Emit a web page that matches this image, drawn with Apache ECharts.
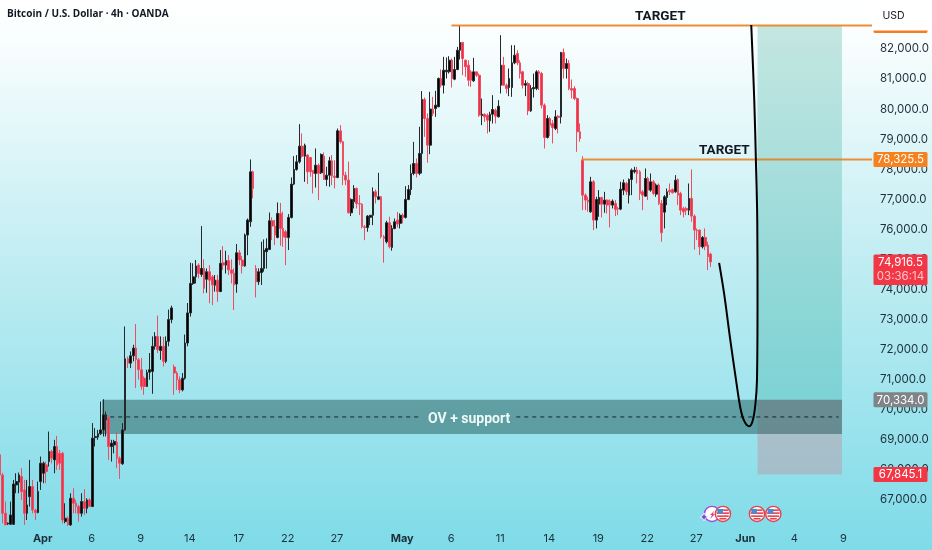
<!DOCTYPE html>
<html><head><meta charset="utf-8">
<style>html,body{margin:0;padding:0;background:#fff}#c{width:932px;height:550px}</style>
<script src="https://cdn.jsdelivr.net/npm/echarts@6/dist/echarts.min.js"></script>
</head><body><div id="c"></div>
<script>
const chartTitle = 'Bitcoin / U.S. Dollar · 4h · OANDA';
const currency = 'USD';
const slotCount = 320;
const tickIndex = [15,33,51,69,87,105,123,147,165,183,201,219,237,255,273,291,309];
const tickText = ['Apr','6','9','14','17','22','27','May','6','11','14','19','22','27','Jun','4','9'];
// open, close, low, high
const ohlc = [
[68500,67830,67670,68890],[67830,66556,66223,67900],[66560,66170,66170,66945],[66200,66230,66170,66250],
[66190,66500,66170,66945],[66190,67530,66170,67665],[67500,67610,67222,67888],[67590,67832,67222,67910],
[67777,67277,67000,68055],[67333,66556,66170,67666],[66556,66833,66334,67666],[67110,67444,66778,68332],
[67444,66667,66556,67666],[66660,66580,66334,66700],[66580,67277,66556,67610],[67610,68221,67333,68443],
[67888,68221,67555,68276],[68166,67944,67555,68276],[68276,68610,68110,69275],[68610,68388,68221,68665],
[68332,68776,67888,69000],[68776,68166,68000,69131],[68550,68221,68000,68665],[68550,66334,66223,68600],
[66280,66390,66223,66890],[66390,66170,66140,66450],[66170,67055,66140,67222],[67055,66890,66556,67388],
[66890,66780,66556,67000],[66780,66556,66280,66840],[66556,66945,66445,67222],[66945,66720,66500,67360],
[66720,67000,66556,67055],[67000,66780,66770,67055],[66780,69055,66770,69555],[69075,69110,68776,69390],
[69090,69200,69000,69330],[69200,69330,69160,70275],[69330,69830,69110,70350],[69665,69830,69110,69940],
[69720,68776,68332,69800],[68776,68890,68276,69000],[68830,68945,68550,69000],[68920,68390,68055,69255],
[68390,68220,67700,68450],[68200,69330,68170,69555],[69330,71695,69300,72770],[71695,71550,71385,71770],
[71550,71795,71385,71940],[71795,72050,71610,72160],[72050,71660,70720,72850],[71660,71330,71000,71720],
[71330,70775,70665,71720],[71050,70775,70500,71110],[70775,71240,70770,71330],[71250,71330,71000,71885],
[71275,72110,70530,72440],[72110,72440,72000,72580],[72440,72000,71885,73130],[71970,72110,71660,72440],
[72110,71610,71440,72420],[71610,72275,71550,72440],[72275,73000,72110,73330],[73000,73385,72880,73460],
[71420,71220,70500,71500],[71220,71000,70660,71280],[71000,70660,70550,71110],[70660,71050,70610,71220],
[71050,72220,71000,72500],[72220,73220,72110,73550],[73220,74200,73100,74889],[74200,74420,74150,74870],
[74420,74780,74200,74980],[74810,74530,74370,74870],[74500,74700,74420,76110],[74700,74040,73870,75000],
[74340,74590,73890,74700],[74590,74310,73540,74810],[74420,74150,73480,74480],[74140,74310,73930,74480],
[74310,73930,73590,74480],[73930,74870,73920,75310],[74890,74810,74650,75440],[74810,74960,74530,75290],
[74960,74650,74480,75140],[74650,74540,74200,75000],[74540,74150,73316,74700],[74180,75220,73890,75510],
[75220,74980,74810,75310],[74980,74780,74530,75110],[74780,75810,74760,75860],[75810,76310,75140,76360],
[76252,77914,76085,78324],[77914,77360,77030,77950],[74700,74257,73737,74811],[74257,74590,74150,74700],
[74560,74700,74150,75587],[74700,75310,74590,75665],[75255,75365,74700,75700],[75330,76285,75310,76560],
[76285,76110,75640,76396],[76110,75810,75476,76310],[75730,76530,75700,76895],[76530,76030,75454,76880],
[76030,75750,75420,76585],[75920,75730,74810,75975],[75730,76396,75310,76507],[76396,77504,76360,77725],
[77504,77990,77470,78435],[77990,78246,77950,78470],[78246,78767,78190,79498],[78767,78435,78390,79190],
[78435,78800,77580,78850],[78470,77914,77504,78500],[78390,77914,77750,78400],[77960,77860,77195,77970],
[77860,78135,77390,78690],[78135,77860,76970,78190],[77880,78490,77840,78525],[78435,77660,77640,78556],
[77660,77800,77440,78080],[77800,78280,77415,78410],[78280,77770,77470,78470],[77770,77725,77360,78300],
[77725,79277,77700,79354],[79277,78910,78855,79465],[78910,77800,77470,78945],[77800,77640,77470,77910],
[77640,76550,76530,78250],[76550,76995,76440,77030],[76915,77360,76695,77470],[77360,76860,76695,77390],
[76860,76840,76474,77140],[76840,76085,76030,76860],[76085,76060,75640,76140],[76060,76440,75920,76475],
[76400,76470,76140,76475],[76470,77250,76140,77395],[77250,77085,76860,77325],[77000,77085,76970,77880],
[77085,75754,75700,77105],[75754,75700,74890,75810],[75585,76220,75530,76285],[76220,75420,75365,76420],
[75400,76030,75290,76140],[76030,76250,76000,76360],[76310,76175,76060,76580],[76200,76470,76030,76530],
[76470,76395,76200,76530],[76395,76995,76360,77437],[76995,77325,76970,77470],[77325,77860,77140,78160],
[77860,78190,77800,78910],[78190,77860,77725,78355],[77860,78525,77800,79410],[78525,80320,77860,80600],
[80319,79687,79077,80385],[79687,78800,78213,79853],[78800,80000,78500,80573],[80000,79853,79765,80407],
[80020,80130,79742,80607],[80075,81017,80070,81050],[81017,80795,80717,81316],[80795,81294,80518,81737],
[81240,81294,81017,81715],[81240,81626,81183,81759],[81626,81017,80717,81682],[80994,81316,80960,81737],
[81316,81958,81294,82070],[81958,82213,81648,82789],[82213,81681,81128,82235],[81626,81404,81072,81648],
[81460,80961,80762,81626],[81238,80961,80740,81294],[80939,81238,80906,81704],[81238,81127,81072,81238],
[81127,79798,79742,81183],[79786,79830,79465,80352],[79830,79742,79576,79853],[79798,79632,79188,79853],
[79610,79830,79244,79909],[79830,79986,79520,80463],[79964,79764,79520,80020],[79742,80097,79720,80296],
[80795,81460,80518,82457],[81460,80795,80790,81737],[80795,80684,80518,80850],[80717,81017,80430,81349],
[80717,81537,80407,82125],[81537,81792,81493,82125],[81847,81537,81460,81958],[81537,81183,81017,81626],
[81238,80795,80684,81272],[80795,80850,80430,80961],[80850,79942,79798,80906],[79942,80684,79909,80795],
[80673,80717,80385,81183],[80684,81238,80629,81294],[81238,81183,80629,81294],[81183,80130,80020,81238],
[80130,79055,78690,80185],[79055,79687,79021,79798],[79687,79465,79100,79742],[79520,79388,78856,79632],
[79354,79742,79299,79964],[79765,79720,79188,79798],[79742,81881,79521,81903],[81881,81349,81017,82014],
[81349,81515,81017,81681],[81515,80684,80629,81626],[80684,80629,80352,80983],[80684,80352,80296,80762],
[80352,79244,78579,80385],[79244,79022,78912,79521],[78301,77138,76639,78434],[77138,76972,76639,77193],
[76972,76916,76584,77082],[76584,77581,76550,77747],[77581,76307,75974,77636],[76307,76994,76030,77082],
[76838,77060,76418,77304],[77060,76838,76396,77082],[76838,76972,76550,77248],[76972,76806,76528,76994],
[76938,76806,76063,76994],[76806,76938,76695,76994],[76860,76661,76440,76972],[76694,76672,76473,76750],
[76672,77337,76639,77581],[77304,77548,77138,77658],[77526,77249,77138,77581],[77138,77658,76860,77692],
[77658,77969,77138,78024],[77913,77969,77858,78080],[77969,77858,77526,78080],[77913,77193,76972,77969],
[77248,77138,76639,77304],[77104,77692,77082,78024],[77692,77304,76972,77747],[77304,77581,77249,77858],
[77581,77193,77138,77636],[77170,77470,77082,77526],[77470,76860,76805,77526],[76860,75886,75587,76972],
[76572,77082,76030,77138],[77060,77248,76805,77359],[77304,77248,77138,77526],[77326,77215,77193,77359],
[77248,77636,77215,77802],[77658,77138,76806,77692],[77193,76639,76473,77248],[76694,76584,76396,76750],
[76694,76639,76473,76750],[76639,77027,76473,77525],[77027,76440,76252,77991],[76440,75974,75324,76495],
[75974,75950,75642,76030],[75974,75420,75143,75996],[75420,75730,75365,75775],[75730,75443,75310,76030],
[75476,75088,74645,75586],[75176,74917,74755,75221]];
const targetUpper = [[165.8,82780],[320.4,82780]];
const targetLower = [[213.6,78325.5],[320.4,78325.5]];
const supportLine = [[40.5,69760],[155,69760],[null,null],[189.6,69760],[308,69760]];
const projection = [[264.1,74883],[266,73818],[268.2,72322],[270.3,70991],[271.9,70060],[273.3,69628],[275.1,69450],
[276.4,69628],[277.4,70160],[278,70991],[278.2,73652],[278.1,76313],[277.6,78308],[277,80304],[275.9,82798]];
// x0, x1, upper price, lower price
const zoneSupport = [37.5,309.2,70334,69195];
const zoneProfit = [278.2,309.2,82780,70334];
const zoneLoss = [278.2,309.2,70334,67845.1];
// index, price, text, size, colour
const notes = [[242.5,83060,'TARGET',13.5,'#131722'],[266,78610,'TARGET',13.5,'#131722'],[172.3,69675,'OV + support',14,'#eefafa']];
// price, text, second text, colour
const priceTags = [[82780,'','','#f57c1f'],[78325.5,'78,325.5','','#f5821f'],[74916.5,'74,916.5','03:36:14','#f23645'],[70334,'70,334.0','','#808487'],[67845.1,'67,845.1','','#f23645']];
const flagEvents = [[265.5,66534],[278,66534],[284,66534]];
const boltEvents = [[261.5,66534]];

const FONT = 'Inter, Roboto, "Liberation Sans", sans-serif';
const cats = Array.from({length:slotCount},(_, i)=>'c'+i);
const chart = echarts.init(document.getElementById('c'),null,{renderer:'canvas',width:932,height:550});

function rectSeries(zone, fill, z){
  return {type:'custom',coordinateSystem:'cartesian2d',xAxisIndex:1,yAxisIndex:0,z,silent:true,clip:false,
    data:[[zone[0],zone[2],zone[1],zone[3]]],
    encode:{x:[0,2],y:[1,3]},
    renderItem(p,api){
      const a=api.coord([api.value(0),api.value(1)]), b=api.coord([api.value(2),api.value(3)]);
      return {type:'rect',shape:{x:a[0],y:a[1],width:b[0]-a[0],height:b[1]-a[1]},style:{fill}};
    }};
}
function flagShape(c){
  const x=c[0],y=c[1],ch=[{type:'circle',shape:{cx:x,cy:y,r:7.6},style:{fill:'#fff',stroke:'#e5404f',lineWidth:1.4}}];
  [[-4,11],[-1,12.6],[2,11.6],[4.6,7]].forEach((s,i)=>ch.push({type:'rect',shape:{x:x-s[1]/2,y:y+s[0]-0.6,width:s[1],height:1.6},style:{fill:'#e5404f'}}));
  ch.push({type:'rect',shape:{x:x-5.6,y:y-5,width:5.6,height:4.6},style:{fill:'#3f8fd8'}});
  return {type:'group',children:ch};
}
const option = {
  animation:false,
  backgroundColor:new echarts.graphic.LinearGradient(0,0,0,1,[{offset:0,color:'#ffffff'},{offset:0.06,color:'#fbfefe'},{offset:0.5,color:'#bdecf2'},{offset:1,color:'#7edbe8'}]),
  title:{text:chartTitle,left:2,top:4,textStyle:{fontFamily:'"Open Sans", sans-serif',fontSize:10,fontWeight:700,color:'#131722'}},
  grid:{left:-1.5,right:62,top:0,bottom:20,outerBoundsMode:'none'},
  xAxis:[
    {type:'category',data:cats,boundaryGap:true,axisLine:{show:false},axisTick:{show:false},splitLine:{show:false},
     axisLabel:{interval:0,hideOverlap:false,margin:3,padding:[0,0,0,4],color:'#1d2f3c',fontFamily:FONT,fontSize:11,
       formatter(v,i){const k=tickIndex.indexOf(i);if(k<0)return '';const t=tickText[k];return /[A-Za-z]/.test(t)?'{b|'+t+'}':t;},
       rich:{b:{fontWeight:700,fontFamily:FONT,fontSize:11,color:'#1d2f3c'}}}},
    {type:'value',min:-0.5,max:slotCount-0.5,show:false}
  ],
  yAxis:{type:'value',position:'right',min:66000,max:83628,interval:1000,axisLine:{show:false},axisTick:{show:false},splitLine:{show:false},
    axisLabel:{margin:10,padding:[2,0,0,0],color:'#1d2f3c',fontFamily:FONT,fontSize:11.5,
      formatter:v=>(v<67000||v>82000)?'':v.toLocaleString('en-US',{minimumFractionDigits:1,maximumFractionDigits:1})}},
  series:[
    rectSeries(zoneProfit,'rgba(8,153,129,0.23)',1),
    rectSeries(zoneLoss,'rgba(242,54,69,0.2)',1),
    rectSeries(zoneSupport,'rgba(25,80,80,0.47)',2),
    {type:'candlestick',xAxisIndex:0,yAxisIndex:0,z:5,barWidth:2.2,data:ohlc,silent:true,
     itemStyle:{color:'#000000',color0:'#ee3049',borderColor:'#26292b',borderColor0:'#ee4d62',borderWidth:1}},
    {type:'line',xAxisIndex:1,yAxisIndex:0,z:6,clip:false,data:targetUpper,showSymbol:false,silent:true,lineStyle:{color:'rgba(235,125,25,0.88)',width:2}},
    {type:'line',xAxisIndex:1,yAxisIndex:0,z:6,clip:false,data:targetLower,showSymbol:false,silent:true,lineStyle:{color:'rgba(235,125,25,0.85)',width:2}},
    {type:'line',xAxisIndex:1,yAxisIndex:0,z:6,data:supportLine,showSymbol:false,silent:true,connectNulls:false,lineStyle:{color:'#16282a',width:1,type:[4,4]}},
    {type:'line',xAxisIndex:1,yAxisIndex:0,z:7,data:projection,smooth:0.35,showSymbol:false,silent:true,lineStyle:{color:'#000',width:2}},
    {type:'custom',xAxisIndex:1,yAxisIndex:0,z:8,silent:true,clip:false,data:notes.map((n,i)=>[n[0],n[1],i]),encode:{x:0,y:1},
     renderItem(p,api){const n=notes[api.value(2)],c=api.coord([n[0],n[1]]);
       return {type:'text',style:{x:c[0],y:c[1],text:n[2],align:'center',verticalAlign:'middle',fill:n[4],fontFamily:'Roboto, sans-serif',fontWeight:700,fontSize:n[3]}};}},
    {type:'custom',xAxisIndex:1,yAxisIndex:0,z:9,silent:true,clip:false,data:flagEvents,encode:{x:0,y:1},
     renderItem(p,api){return flagShape(api.coord([api.value(0),api.value(1)]));}},
    {type:'custom',xAxisIndex:1,yAxisIndex:0,z:8,silent:true,clip:false,data:boltEvents,encode:{x:0,y:1},
     renderItem(p,api){const c=api.coord([api.value(0),api.value(1)]),x=c[0],y=c[1];
       return {type:'group',children:[
         {type:'circle',shape:{cx:x,cy:y,r:7.6},style:{fill:'#fff',stroke:'#9b4ddb',lineWidth:1.4}},
         {type:'polygon',shape:{points:[[x+2,y-3],[x-2,y+1],[x,y+1],[x-2,y+5],[x+3,y],[x+1,y]]},style:{fill:'#d6417f'}},
         {type:'polygon',shape:{points:[[x-8,y-1],[x-6.7,y+1.7],[x-4,y+3],[x-6.7,y+4.3],[x-8,y+7],[x-9.3,y+4.3],[x-12,y+3],[x-9.3,y+1.7]]},style:{fill:'#7c3fe0',stroke:'#fff',lineWidth:0.8}}
       ]};}},
    {type:'custom',xAxisIndex:1,yAxisIndex:0,z:10,silent:true,clip:false,data:priceTags.map((t,i)=>[0,t[0],i]),encode:{y:1},
     renderItem(p,api){const t=priceTags[api.value(2)],yc=api.coord([0,t[0]])[1],two=!!t[2];
       const ch=[{type:'rect',shape:{x:873.5,y:yc-7.5,width:54,height:two?30.5:15,r:1.5},style:{fill:t[3]}}];
       if(t[1])ch.push({type:'text',style:{x:900.5,y:yc+0.5,text:t[1],align:'center',verticalAlign:'middle',fill:'#fff',fontFamily:FONT,fontSize:11.5}});
       if(two)ch.push({type:'text',style:{x:900.5,y:yc+15,text:t[2],align:'center',verticalAlign:'middle',fill:'#ffc4c9',fontFamily:FONT,fontSize:11.5}});
       return {type:'group',children:ch};}}
  ],
  graphic:[
    {type:'rect',z:100,shape:{x:872,y:0,width:60,height:30.5},style:{fill:'#ffffff'},silent:true},
    {type:'text',z:101,style:{x:893.5,y:15.5,text:currency,align:'center',verticalAlign:'middle',fontFamily:FONT,fontSize:10.5,fill:'#131722'},silent:true}
  ]
};
chart.setOption(option);
</script></body></html>
